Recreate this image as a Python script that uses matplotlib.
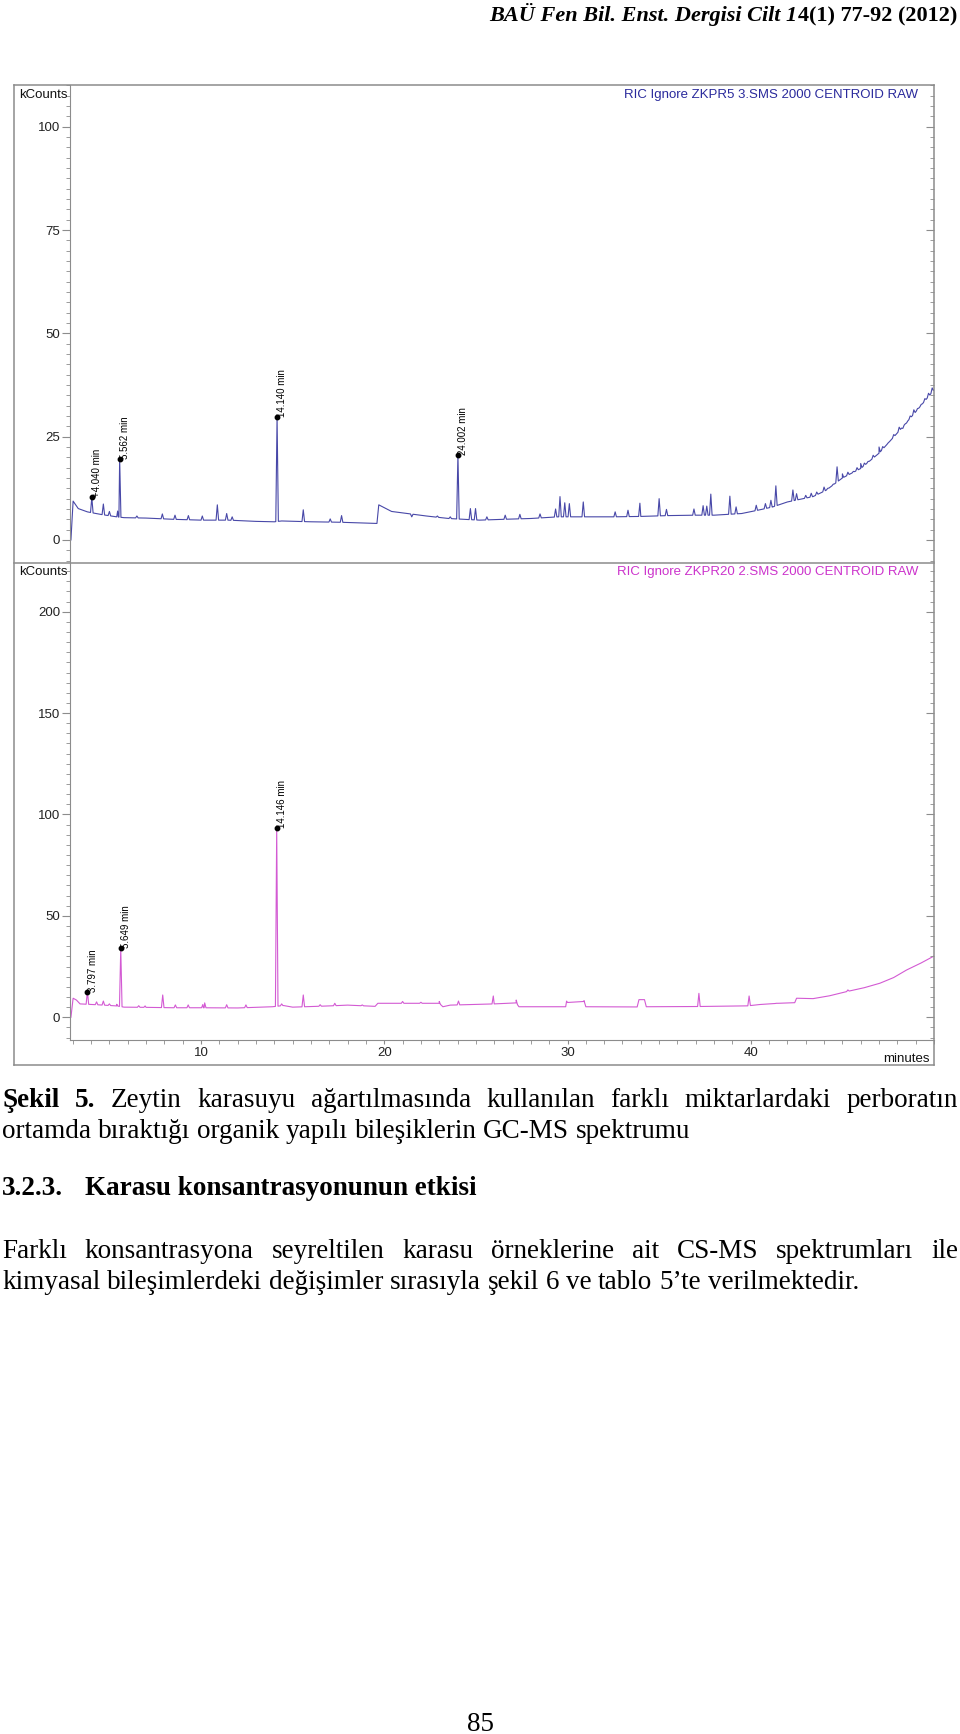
import numpy as np
import matplotlib
matplotlib.use('Agg')
import matplotlib.pyplot as plt
from matplotlib.lines import Line2D
from matplotlib.ticker import MultipleLocator, FixedLocator

# ---- data (minutes, kCounts) ----
top_base_t = [2.90, 3.02, 3.3, 3.8, 4.5, 5.4, 5.8, 7.0, 8.5, 10.0, 11.5, 13.0, 14.0, 14.4, 16.0,
              17.5, 19.0, 19.6, 19.7, 20.4, 22.3, 23.5, 25.2, 26.5, 28.0, 29.5, 31.0, 32.5,
              34.0, 35.5, 37.0, 38.0, 39.5, 40.5, 41.2, 42.0, 43.4, 44.1, 45.0, 46.0, 47.0,
              48.0, 49.0, 50.0]
top_base_y = [0.0, 9.4, 7.6, 6.8, 6.2, 5.6, 5.4, 5.3, 5.0, 4.8, 4.8, 4.5, 4.4, 4.6, 4.4,
              4.3, 4.1, 4.0, 8.5, 6.9, 5.8, 5.2, 4.8, 5.0, 5.2, 5.6, 5.6, 5.6,
              5.7, 5.9, 6.0, 6.0, 6.4, 7.3, 8.0, 9.2, 10.5, 12.0, 15.0, 17.3, 21.0,
              25.9, 31.0, 36.3]
top_peak_t = [4.04, 4.67, 5.0, 5.45, 5.56, 6.5, 7.89, 8.58, 9.31, 10.07, 10.89, 11.4, 11.7,
              14.15, 15.58, 17.05, 17.67, 21.5, 22.9, 23.6, 24.02, 24.7, 24.98, 25.6, 26.6,
              27.4, 28.5, 29.35, 29.59, 29.85, 30.1, 30.86, 32.6, 33.3, 33.95, 35.0, 35.4,
              36.9, 37.4, 37.6, 37.82, 38.86, 39.2, 40.3, 40.8, 41.1, 41.37, 42.3, 42.5,
              43.0, 43.3, 43.6, 44.0, 44.2, 44.5, 44.71, 45.0, 45.3, 45.6, 45.8, 46.0,
              46.2, 46.4, 46.68, 47.0, 47.2, 47.5, 47.8, 48.1, 48.3, 48.5, 48.7, 48.9,
              49.1, 49.3, 49.5, 49.7, 49.9]
top_peak_y = [10.3, 8.7, 6.9, 7.0, 19.6, 5.8, 6.3, 6.0, 5.9, 5.8, 8.5, 6.4, 5.6,
              29.8, 7.3, 5.1, 5.9, 5.6, 5.8, 5.6, 20.6, 7.6, 7.6, 5.6, 6.0,
              6.2, 6.3, 7.5, 10.5, 9.0, 8.8, 9.2, 6.8, 7.2, 8.9, 10.0, 7.4,
              7.5, 8.3, 8.2, 11.1, 10.6, 8.0, 8.4, 8.8, 9.6, 13.1, 12.1, 11.2,
              10.8, 11.3, 11.6, 12.8, 12.5, 13.5, 17.7, 16.0, 16.4, 16.6, 17.5, 18.5,
              18.6, 19.0, 20.5, 22.5, 22.6, 23.5, 25.5, 27.3, 27.0, 28.3, 30.0, 31.5,
              31.8, 32.8, 34.2, 35.5, 36.8]
top_label_t = [4.04, 5.56, 14.15, 24.02]
top_label_y = [10.3, 19.6, 29.8, 20.6]
top_labels = ['+4.040 min', '5.562 min', '14.140 min', '24.002 min']

bot_base_t = [2.90, 3.02, 3.2, 3.4, 4.5, 5.4, 5.8, 7.0, 8.5, 10.0, 12.0, 13.9, 14.5, 15.0,
              17.0, 18.0, 19.5, 19.65, 23.0, 23.2, 23.6, 25.2, 26.0, 27.2, 27.35, 29.9,
              30.0, 30.9, 31.0, 33.8, 33.9, 34.2, 34.3, 37.0, 39.8, 40.5, 41.5, 42.4,
              42.5, 43.4, 44.3, 45.2, 46.2, 47.05, 47.8, 48.5, 49.3, 50.0]
bot_base_y = [0.0, 9.4, 8.5, 6.6, 6.1, 5.6, 5.0, 4.9, 4.7, 4.7, 4.6, 5.2, 5.8, 5.0,
              5.6, 6.0, 5.4, 6.9, 6.9, 5.2, 6.0, 6.4, 6.6, 7.1, 5.2, 5.2,
              7.3, 7.8, 5.2, 5.1, 8.7, 8.7, 5.2, 5.3, 5.6, 6.3, 6.9, 7.2,
              9.4, 9.2, 10.6, 12.6, 14.6, 16.8, 19.6, 23.3, 26.8, 30.2]
bot_peak_t = [3.80, 4.3, 4.67, 5.0, 5.4, 5.62, 6.6, 6.95, 7.91, 8.6, 9.3, 10.1, 10.2, 11.4,
              12.45, 14.13, 14.4, 15.58, 16.5, 17.3, 18.8, 21.0, 22.0, 23.0, 24.05, 25.95,
              27.2, 29.95, 30.9, 37.17, 39.91, 41.4, 45.3]
bot_peak_y = [12.6, 7.6, 8.0, 6.6, 6.4, 34.0, 5.7, 5.6, 11.0, 6.1, 6.1, 6.3, 7.1, 6.2,
              6.1, 93.2, 6.6, 11.0, 6.2, 6.9, 6.1, 7.8, 7.4, 7.8, 8.0, 10.5,
              8.5, 8.0, 8.2, 11.8, 10.5, 6.9, 13.5]
bot_label_t = [3.80, 5.62, 14.13]
bot_label_y = [12.6, 34.0, 93.2]
bot_labels = ['3.797 min', '5.649 min', '14.146 min']
x_ticks = [10, 20, 30, 40]

W, H = 960, 1734
def fx(px):
    return px / W
def fy(py):
    return 1 - py / H

SANS = 'Liberation Sans'
SERIF = 'Liberation Serif'
FRAME = '#8c8c8c'

fig = plt.figure(figsize=(9.6, 17.34), dpi=100)


def build_trace(bt, by, pt, ph, hw=0.07):
    xs = list(bt)
    ys = list(by)
    for t, h in zip(pt, ph):
        xs += [t - hw, t, t + hw]
        ys += [np.interp(t - hw, bt, by), h, np.interp(t + hw, bt, by)]
    order = np.argsort(xs, kind='stable')
    return np.array(xs)[order], np.array(ys)[order]


def setup(ax, ylim, major, minor, xaxis):
    ax.set_xlim(2.85, 50)
    ax.set_ylim(*ylim)
    ax.yaxis.set_major_locator(MultipleLocator(major))
    ax.yaxis.set_minor_locator(MultipleLocator(minor))
    for s in ['top', 'right']:
        ax.spines[s].set_visible(False)
    ax.spines['left'].set_color(FRAME)
    ax.spines['bottom'].set_color(FRAME)
    ax.spines['bottom'].set_visible(xaxis)
    ax.tick_params(axis='y', which='major', length=6, color=FRAME, labelsize=9.5,
                   pad=1, labelcolor='#222222')
    ax.tick_params(axis='y', which='minor', length=3, color=FRAME)
    for lab in ax.get_yticklabels():
        lab.set_family(SANS)
    if xaxis:
        ax.xaxis.set_major_locator(FixedLocator(x_ticks))
        ax.xaxis.set_minor_locator(MultipleLocator(1))
        ax.tick_params(axis='x', which='both', length=3, color=FRAME, labelsize=9.5,
                       pad=2, labelcolor='#222222')
        for lab in ax.get_xticklabels():
            lab.set_family(SANS)
    else:
        ax.tick_params(axis='x', which='both', bottom=False, labelbottom=False)
    tw = ax.twinx()
    tw.set_ylim(*ylim)
    tw.yaxis.set_major_locator(MultipleLocator(major))
    tw.yaxis.set_minor_locator(MultipleLocator(minor))
    for s in tw.spines.values():
        s.set_visible(False)
    tw.tick_params(axis='y', which='major', direction='in', length=6, color=FRAME,
                   labelright=False)
    tw.tick_params(axis='y', which='minor', direction='in', length=3, color=FRAME)


ax1 = fig.add_axes([fx(70), fy(562.7), fx(934) - fx(70), fy(85) - fy(562.7)])
ax2 = fig.add_axes([fx(70), fy(1040), fx(934) - fx(70), fy(563) - fy(1040)])
setup(ax1, (-5.5, 110.1), 25, 2.5, False)
setup(ax2, (-11.2, 224.0), 50, 5, True)

t1, y1 = build_trace(top_base_t, top_base_y, top_peak_t, top_peak_y)
ax1.plot(t1, y1, color='#4848a8', lw=0.8)
t2, y2 = build_trace(bot_base_t, bot_base_y, bot_peak_t, bot_peak_y)
ax2.plot(t2, y2, color='#d35ad3', lw=0.8)

for ax, lt, ly, labs in [(ax1, top_label_t, top_label_y, top_labels),
                         (ax2, bot_label_t, bot_label_y, bot_labels)]:
    ax.plot(lt, ly, 'o', color='black', ms=3.2, zorder=5)
    for t, y, s in zip(lt, ly, labs):
        ax.text(t + 0.02, y, s, rotation=90, ha='left', va='bottom', fontsize=7,
                family=SANS, color='black')

# frame around the two chromatograms
for xs, ys in [([14, 934], [85, 85]), ([14, 934], [1065, 1065]), ([14, 14], [85, 1065]),
               ([934, 934], [85, 1065]), ([14, 934], [562.8, 562.8])]:
    fig.add_artist(Line2D([fx(v) for v in xs], [fy(v) for v in ys], color=FRAME, lw=1.1,
                          transform=fig.transFigure))

fig.text(fx(19), fy(95), 'kCounts', fontsize=9.5, family=SANS, va='center', color='#111111')
fig.text(fx(19), fy(572), 'kCounts', fontsize=9.5, family=SANS, va='center', color='#111111')
fig.text(fx(918), fy(95), 'RIC Ignore ZKPR5 3.SMS 2000 CENTROID RAW', fontsize=9.5,
         family=SANS, va='center', ha='right', color='#2a2a9c')
fig.text(fx(918), fy(572), 'RIC Ignore ZKPR20 2.SMS 2000 CENTROID RAW', fontsize=9.5,
         family=SANS, va='center', ha='right', color='#cc33cc')
fig.text(fx(930), fy(1059), 'minutes', fontsize=9.5, family=SANS, va='center', ha='right',
         color='#111111')

# ---- page text ----
renderer = fig.canvas.get_renderer()
BODY = 19.5

h2 = fig.text(fx(957), fy(21), '4(1) 77-92 (2012)', fontsize=16, family=SERIF,
              weight='bold', ha='right', va='baseline')
bb = h2.get_window_extent(renderer)
fig.text(bb.x0 / fig.bbox.width, fy(21), 'BAÜ Fen Bil. Enst. Dergisi Cilt 1', fontsize=16,
         family=SERIF, weight='bold', style='italic', ha='right', va='baseline')


def text_width(s, size):
    t = fig.text(0, 0, s, fontsize=size, family=SERIF)
    w = t.get_window_extent(renderer).width
    t.remove()
    return w


def line(words, bold, y, justify, x0=2, x1=958, size=BODY):
    texts = [fig.text(0, 0, w, fontsize=size, family=SERIF,
                      weight='bold' if b else 'normal', va='baseline')
             for w, b in zip(words, bold)]
    widths = [t.get_window_extent(renderer).width for t in texts]
    space = text_width('a a', size) - text_width('aa', size)
    gap = ((x1 - x0) - sum(widths)) / (len(words) - 1) if justify else space
    x = x0
    for t, w in zip(texts, widths):
        t.set_position((fx(x), fy(y)))
        x += w + gap


w1 = 'Şekil 5. Zeytin karasuyu ağartılmasında kullanılan farklı miktarlardaki perboratın'.split()
line(w1, [True, True] + [False] * (len(w1) - 2), 1107, True)
w2 = 'ortamda bıraktığı organik yapılı bileşiklerin GC-MS spektrumu'.split()
line(w2, [False] * len(w2), 1138, False)
fig.text(fx(2), fy(1195), '3.2.3.', fontsize=BODY, family=SERIF, weight='bold', va='baseline')
fig.text(fx(85), fy(1195), 'Karasu konsantrasyonunun etkisi', fontsize=BODY, family=SERIF,
         weight='bold', va='baseline')
w4 = 'Farklı konsantrasyona seyreltilen karasu örneklerine ait CS-MS spektrumları ile'.split()
line(w4, [False] * len(w4), 1258, True)
w5 = 'kimyasal bileşimlerdeki değişimler sırasıyla şekil 6 ve tablo 5’te verilmektedir.'.split()
line(w5, [False] * len(w5), 1289, False)
fig.text(0.5, fy(1731), '85', fontsize=BODY, family=SERIF, ha='center', va='baseline')

fig.savefig('out.png', dpi=100)
